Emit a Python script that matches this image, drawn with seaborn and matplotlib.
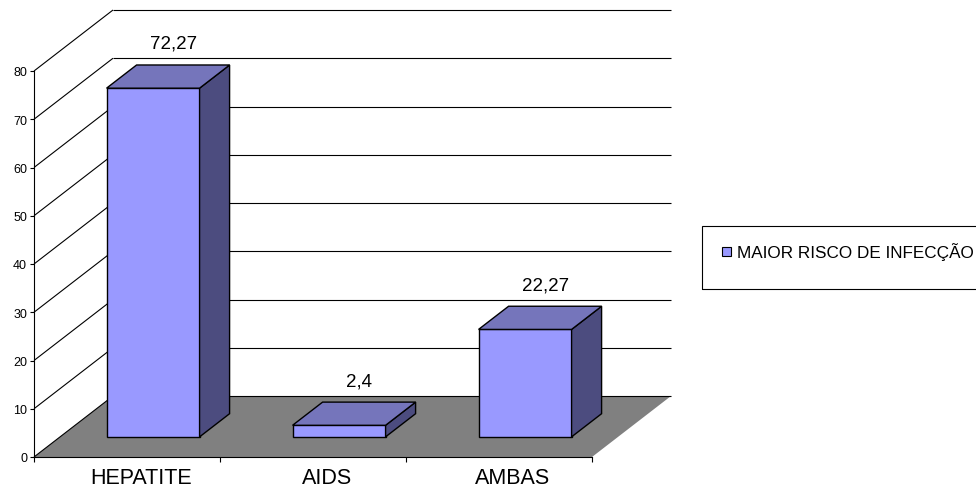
import numpy as np
import matplotlib
matplotlib.use("Agg")
import matplotlib.pyplot as plt
from matplotlib.patches import Polygon, Rectangle, Patch
from matplotlib.transforms import ScaledTranslation
import seaborn as sns
import pandas as pd

# Chart data
categories = ["HEPATITE", "AIDS", "AMBAS"]
values = [72.27, 2.4, 22.27]
series_name = "MAIOR RISCO DE INFECÇÃO"
y_ticks = [0, 10, 20, 30, 40, 50, 60, 70, 80]

# Face colours of the 3-D columns and the floor
FRONT = "#9999FF"
TOP = "#7575BB"
SIDE = "#4C4C7F"
FLOOR = "#808080"

sns.set_theme(style="white")
plt.rcParams["font.family"] = ["Liberation Sans", "DejaVu Sans"]
plt.rcParams["text.color"] = "black"
plt.rcParams["xtick.color"] = "black"
plt.rcParams["ytick.color"] = "black"
plt.rcParams["axes.edgecolor"] = "black"

fig = plt.figure(figsize=(9.76, 4.89), dpi=100)
fig.patch.set_facecolor("white")
ax = fig.add_axes([34 / 976, 31 / 489, 558 / 976, 386 / 489])
ax.patch.set_visible(False)

df = pd.DataFrame({"categoria": categories, "valor": values})
sns.barplot(data=df, x="categoria", y="valor", color=FRONT, saturation=1,
            width=0.5, edgecolor="black", linewidth=1, errorbar=None,
            ax=ax, zorder=4)
bars = list(ax.containers[0])

ax.set_xlim(-0.5, 2.5)
ax.set_ylim(0, 80)
ax.set_autoscale_on(False)

# Oblique depth vector (79 px right, 61 px up) expressed in data units
inv = ax.transData.inverted()
o = ax.transData.transform((0, 0))
DX, DY = inv.transform(o + np.array([79.0, 61.0])) - inv.transform(o)
F0, FD = 0.33, 0.38   # front position and thickness of the columns in depth

x0, x1 = -0.5, 2.5
line_kw = dict(color="black", lw=0.8, clip_on=False, zorder=1,
               solid_capstyle="butt")
for v in y_ticks:
    ax.plot([x0, x0 + DX], [v, v + DY], **line_kw)            # side wall
    ax.plot([x0 + DX, x1 + DX], [v + DY, v + DY], **line_kw)  # back wall

ax.add_patch(Polygon([(x0, 0), (x1, 0), (x1 + DX, DY), (x0 + DX, DY)],
                     closed=True, facecolor=FLOOR, edgecolor="none",
                     clip_on=False, zorder=0.5))

face_kw = dict(closed=True, edgecolor="black", linewidth=1,
               joinstyle="miter", clip_on=False, zorder=4)
for bar, v in zip(bars, values):
    bx, bw, bh = bar.get_x() + F0 * DX, bar.get_width(), bar.get_height()
    by = F0 * DY
    bar.set_x(bx)
    bar.set_y(by)
    bar.set_clip_on(False)
    ox, oy = FD * DX, FD * DY
    ax.add_patch(Polygon([(bx + bw, by), (bx + bw + ox, by + oy),
                          (bx + bw + ox, by + bh + oy), (bx + bw, by + bh)],
                         facecolor=SIDE, **face_kw))
    ax.add_patch(Polygon([(bx, by + bh), (bx + bw, by + bh),
                          (bx + bw + ox, by + bh + oy), (bx + ox, by + bh + oy)],
                         facecolor=TOP, **face_kw))
    ax.annotate(f"{v:g}".replace(".", ","),
                xy=(bx + bw / 2 + ox / 2, by + bh + oy),
                xytext=(5, 13), textcoords="offset pixels",
                ha="center", va="bottom", fontsize=13.5, zorder=5,
                annotation_clip=False)

# Axes, ticks and category labels
ax.set_xlabel("")
ax.set_ylabel("")
ax.set_yticks(y_ticks)
ax.tick_params(axis="y", which="major", direction="out", length=3,
               width=0.8, pad=2, labelsize=9, left=True)
ax.set_xticks([-0.5, 0.5, 1.5, 2.5], labels=[""] * 4)
ax.set_xticks(range(len(categories)), labels=categories, minor=True)
ax.tick_params(axis="x", which="major", direction="out", length=3.6,
               width=0.8, bottom=True)
ax.tick_params(axis="x", which="minor", length=0, pad=7, labelsize=15.5,
               bottom=True)
sns.despine(ax=ax)
for s in ("left", "bottom"):
    ax.spines[s].set_linewidth(0.8)
    ax.spines[s].set_color("black")

shift = ScaledTranslation(14 / 100, 0, fig.dpi_scale_trans)
for t in ax.xaxis.get_minor_ticks():
    t.label1.set_transform(t.label1.get_transform() + shift)

# Legend
handle = Patch(facecolor=FRONT, edgecolor="black", linewidth=0.8)
fig.legend([handle], [series_name], loc="center left",
           bbox_to_anchor=(722 / 976, 1 - 252.5 / 489), frameon=False,
           fontsize=12.3, handlelength=0.5, handleheight=0.5,
           handletextpad=0.4, borderpad=0, borderaxespad=0)
fig.add_artist(Rectangle((702 / 976, 1 - 290 / 489), 0.4, 63 / 489,
                         transform=fig.transFigure, fill=False,
                         edgecolor="black", lw=0.8))

fig.savefig("out.png", dpi=100)
